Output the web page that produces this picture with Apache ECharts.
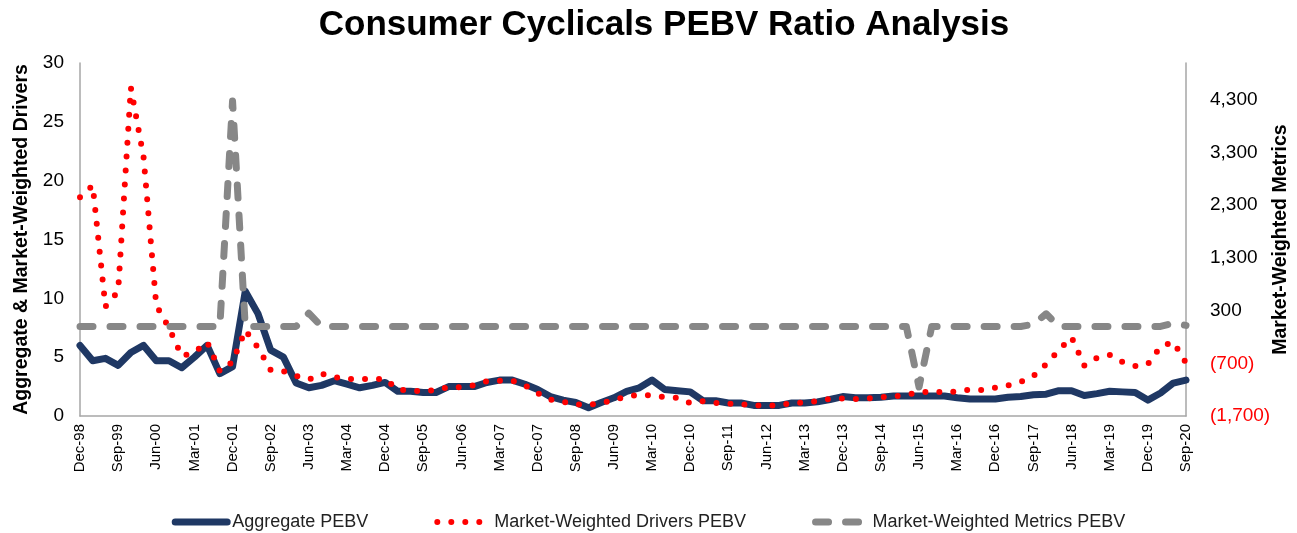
<!DOCTYPE html>
<html>
<head>
    <meta charset="UTF-8">
    <title>Consumer Cyclicals PEBV Ratio Analysis</title>
    <script type="text/javascript" src="https://cdn.jsdelivr.net/npm/echarts@6/dist/echarts.min.js"></script>
    <style type="text/css">
        html, body { margin: 0; padding: 0; background: #fff; }
        #pebv_chart { width: 1297px; height: 533px; }
    </style>
</head>
<body>
<div id="pebv_chart"></div>

<script type="text/javascript">
    // quarter ends, Dec-98 .. Sep-20
    var quarters = [
        'Dec-98',
        'Mar-99', 'Jun-99', 'Sep-99', 'Dec-99',
        'Mar-00', 'Jun-00', 'Sep-00', 'Dec-00',
        'Mar-01', 'Jun-01', 'Sep-01', 'Dec-01',
        'Mar-02', 'Jun-02', 'Sep-02', 'Dec-02',
        'Mar-03', 'Jun-03', 'Sep-03', 'Dec-03',
        'Mar-04', 'Jun-04', 'Sep-04', 'Dec-04',
        'Mar-05', 'Jun-05', 'Sep-05', 'Dec-05',
        'Mar-06', 'Jun-06', 'Sep-06', 'Dec-06',
        'Mar-07', 'Jun-07', 'Sep-07', 'Dec-07',
        'Mar-08', 'Jun-08', 'Sep-08', 'Dec-08',
        'Mar-09', 'Jun-09', 'Sep-09', 'Dec-09',
        'Mar-10', 'Jun-10', 'Sep-10', 'Dec-10',
        'Mar-11', 'Jun-11', 'Sep-11', 'Dec-11',
        'Mar-12', 'Jun-12', 'Sep-12', 'Dec-12',
        'Mar-13', 'Jun-13', 'Sep-13', 'Dec-13',
        'Mar-14', 'Jun-14', 'Sep-14', 'Dec-14',
        'Mar-15', 'Jun-15', 'Sep-15', 'Dec-15',
        'Mar-16', 'Jun-16', 'Sep-16', 'Dec-16',
        'Mar-17', 'Jun-17', 'Sep-17', 'Dec-17',
        'Mar-18', 'Jun-18', 'Sep-18', 'Dec-18',
        'Mar-19', 'Jun-19', 'Sep-19', 'Dec-19',
        'Mar-20', 'Jun-20', 'Sep-20'
    ];

    var aggregatePebv = [
        6.0,
        4.7, 4.9, 4.3, 5.4,
        6.0, 4.7, 4.7, 4.1,
        5.0, 6.0, 3.6, 4.2,
        10.6, 8.7, 5.6, 5.0,
        2.8, 2.4, 2.6, 3.0,
        2.7, 2.4, 2.6, 2.85,
        2.1, 2.1, 2.0, 2.0,
        2.5, 2.5, 2.5, 2.85,
        3.05, 3.05, 2.7, 2.25,
        1.65, 1.35, 1.15, 0.7,
        1.15, 1.55, 2.1, 2.4,
        3.05, 2.25, 2.15, 2.05,
        1.3, 1.3, 1.1, 1.1,
        0.9, 0.9, 0.9, 1.1,
        1.1, 1.2, 1.4, 1.65,
        1.55, 1.55, 1.6, 1.7,
        1.7, 1.7, 1.7, 1.7,
        1.55, 1.45, 1.45, 1.45,
        1.6, 1.65, 1.8, 1.85,
        2.15, 2.15, 1.75, 1.9,
        2.1, 2.05, 2.0, 1.35,
        1.95, 2.8, 3.05
    ];

    var driversPebv = [
        18.6,
        19.6, 9.3, 10.6, 27.9,
        22.0, 9.4, 7.5, 5.1,
        5.4, 6.3, 3.8, 4.6,
        7.3, 5.8, 3.9, 3.8,
        3.4, 3.1, 3.6, 3.3,
        3.15, 3.15, 3.15, 3.15,
        2.25, 2.15, 2.1, 2.2,
        2.45, 2.45, 2.6, 2.95,
        3.0, 3.0, 2.6, 1.95,
        1.4, 1.2, 1.0, 0.95,
        1.1, 1.35, 1.65, 1.8,
        1.75, 1.6, 1.55, 1.1,
        1.25, 1.1, 1.05, 1.0,
        0.9, 0.9, 0.9, 1.1,
        1.15, 1.25, 1.45, 1.5,
        1.45, 1.5, 1.6, 1.65,
        1.8, 2.0, 2.1, 2.0,
        2.1, 2.25, 2.2, 2.4,
        2.6, 2.9, 3.4, 4.4,
        5.6, 6.7, 4.3, 4.95,
        5.2, 4.6, 4.25, 4.4,
        5.9, 6.3, 4.5
    ];

    var metricsPebv = [
        0,
        0, 0, 0, 0,
        0, 0, 0, 0,
        0, 0, 0, 4280,
        0, 0, 0, 0,
        0, 250, 0, 0,
        0, 0, 0, 0,
        0, 0, 0, 0,
        0, 0, 0, 0,
        0, 0, 0, 0,
        0, 0, 0, 0,
        0, 0, 0, 0,
        0, 0, 0, 0,
        0, 0, 0, 0,
        0, 0, 0, 0,
        0, 0, 0, 0,
        0, 0, 0, 0,
        0, -1150, 0, 0,
        0, 0, 0, 0,
        0, 0, 40, 240,
        0, 0, 0, 0,
        0, 0, 0, 0,
        0, 60, 20
    ];

    var leftTicks = [0, 5, 10, 15, 20, 25, 30];
    var rightTicks = [-1700, -700, 300, 1300, 2300, 3300, 4300];

    var font = "'Liberation Sans', Arial, sans-serif";

    function fmtThousands(v) {
        return String(Math.abs(v)).replace(/\B(?=(\d{3})+(?!\d))/g, ',');
    }

    var chart = echarts.init(document.getElementById('pebv_chart'));

    chart.setOption({
        animation: false,
        textStyle: { fontFamily: font },
        title: {
            text: 'Consumer Cyclicals PEBV Ratio Analysis',
            left: 659,
            textAlign: 'center',
            top: 3,
            textStyle: { fontFamily: font, fontSize: 35, fontWeight: 'bold', color: '#000' }
        },
        legend: {
            top: 508,
            left: 'center',
            itemWidth: 52,
            itemHeight: 12,
            itemGap: 66,
            itemStyle: { color: 'rgba(0,0,0,0)', borderWidth: 0 },
            lineStyle: { width: 'inherit', type: 'inherit', cap: 'round' },
            textStyle: { fontFamily: font, fontSize: 18, color: '#222' },
            data: ['Aggregate PEBV', 'Market-Weighted Drivers PEBV', 'Market-Weighted Metrics PEBV']
        },
        grid: { left: 80, right: 111, top: 63, bottom: 117, outerBoundsMode: 'none' },
        xAxis: {
            type: 'category',
            data: quarters,
            boundaryGap: false,
            axisLine: { lineStyle: { color: '#a6a6a6', width: 1.5 } },
            axisTick: { show: false },
            axisLabel: {
                interval: 2,
                rotate: 90,
                margin: 8,
                fontFamily: font,
                fontSize: 15,
                color: '#000'
            },
            splitLine: { show: false }
        },
        yAxis: [
            {
                type: 'value',
                min: 0,
                max: 30,
                interval: 5,
                name: 'Aggregate & Market-Weighted Drivers',
                nameLocation: 'middle',
                nameRotate: 90,
                nameGap: 48,
                nameMoveOverlap: false,
                nameTextStyle: { fontFamily: font, fontSize: 19.5, fontWeight: 'bold', color: '#000' },
                axisLine: { show: true, lineStyle: { color: '#a6a6a6', width: 1.5 } },
                axisTick: { show: false },
                axisLabel: {
                    customValues: leftTicks,
                    margin: 16,
                    fontFamily: font,
                    fontSize: 19,
                    color: '#000'
                },
                splitLine: { show: false }
            },
            {
                type: 'value',
                min: -1700,
                max: 5000,
                name: 'Market-Weighted Metrics',
                nameLocation: 'middle',
                nameRotate: 90,
                nameGap: 85,
                nameMoveOverlap: false,
                nameTextStyle: { fontFamily: font, fontSize: 19.5, fontWeight: 'bold', color: '#000' },
                axisLine: { show: true, lineStyle: { color: '#a6a6a6', width: 1.5 } },
                axisTick: { show: false },
                axisLabel: {
                    customValues: rightTicks,
                    margin: 24,
                    fontFamily: font,
                    fontSize: 19,
                    color: '#000',
                    formatter: function (v) {
                        if (v < 0) {
                            return '{neg|(' + fmtThousands(v) + ')}';
                        }
                        return fmtThousands(v);
                    },
                    rich: {
                        neg: { color: '#ff0000', fontFamily: font, fontSize: 19 }
                    }
                },
                splitLine: { show: false }
            }
        ],
        series: [
            {
                name: 'Aggregate PEBV',
                type: 'line',
                yAxisIndex: 0,
                data: aggregatePebv,
                symbol: 'none',
                itemStyle: { color: '#1f3864' },
                lineStyle: { color: '#1f3864', width: 7, cap: 'round', join: 'round' }
            },
            {
                name: 'Market-Weighted Drivers PEBV',
                type: 'line',
                yAxisIndex: 0,
                data: driversPebv,
                symbol: 'none',
                itemStyle: { color: '#ff0000' },
                lineStyle: { color: '#ff0000', width: 6, type: [0, 14], cap: 'round', join: 'round' }
            },
            {
                name: 'Market-Weighted Metrics PEBV',
                type: 'line',
                yAxisIndex: 1,
                data: metricsPebv,
                symbol: 'none',
                itemStyle: { color: '#878787' },
                lineStyle: { color: '#878787', width: 7, type: [13, 17], cap: 'round', join: 'round' }
            }
        ]
    });
</script>
</body>
</html>
